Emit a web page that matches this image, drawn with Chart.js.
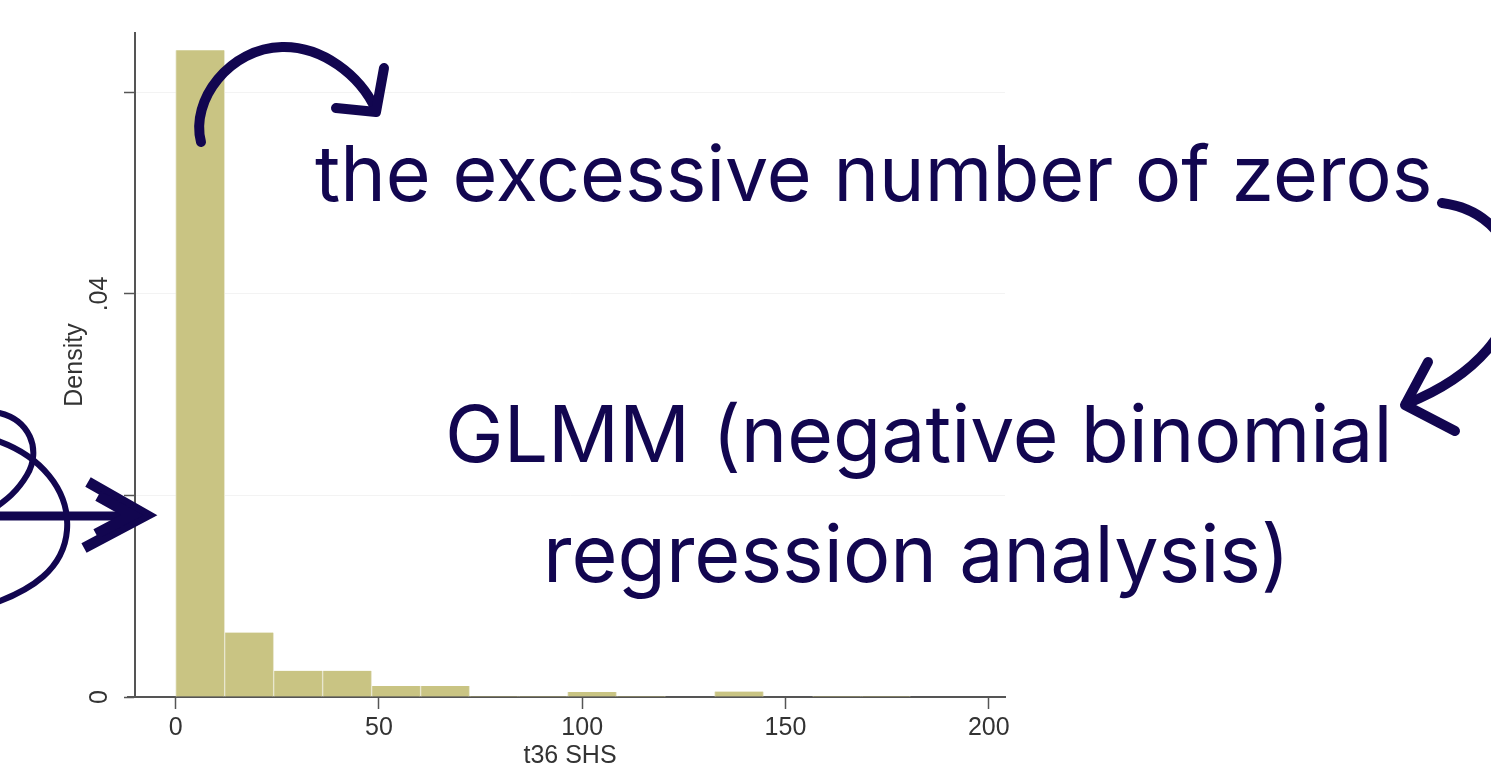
<!DOCTYPE html>
<html>
<head>
<meta charset="utf-8">
<title>t36 SHS histogram</title>
<script src="https://cdn.jsdelivr.net/npm/chart.js@4/dist/chart.umd.min.js"></script>
<style>
  html, body { margin: 0; padding: 0; background: #fff; overflow: hidden; }
  #wrap { width: 1491px; height: 764px; overflow: hidden; }
</style>
</head>
<body>
<div id="wrap"><canvas id="hist" width="1491" height="780"></canvas></div>
<script>
// ---------------- Data ----------------

const binWidth = 12.05;
const densities = [0.0642, 0.0064, 0.0026, 0.0026, 0.0011, 0.0011, 0.0001, 0.0001,
                   0.0005, 0.0001, 0, 0.00055, 0, 0.0001, 0.0001];
const xTicks = [0, 50, 100, 150, 200];
const yTicks = [0, 0.02, 0.04, 0.06];
const yTickLabels = ["0", "", ".04", ""];
const noteLines = ["the excessive number of zeros", "GLMM (negative binomial", "regression analysis)"];

const binCenters = densities.map((d, i) => i * binWidth + binWidth / 2);

// ---------------- Colours ----------------

const ink = "#120650";
const barFill = "#c9c483";
const axisGrey = "#555555";
const labelGrey = "#333333";

// ---------------- Rotated y tick labels ----------------

// Chart.js won't turn y labels to -90, so they are written here
const yLabels = {
  id: "yLabels",
  afterDraw(chart) {
    const ctx = chart.ctx;
    const y = chart.scales.y;
    ctx.save();
    ctx.fillStyle = labelGrey;
    ctx.font = "25px 'Liberation Sans'";
    ctx.textAlign = "center";
    ctx.textBaseline = "middle";
    yTicks.forEach((v, i) => {
      if (!yTickLabels[i]) return;
      ctx.save();
      ctx.translate(y.right - 35, y.getPixelForValue(v));
      ctx.rotate(-Math.PI / 2);
      ctx.fillText(yTickLabels[i], 0, 0);
      ctx.restore();
    });
    ctx.restore();
  }
};

// ---------------- Hand drawn notes ----------------

const notes = {
  id: "notes",
  afterDraw(chart) {
    const ctx = chart.ctx;
    ctx.save();

    // text lines: left x, baseline y, width
    const spots = [[315, 201, 1117], [445, 462, 948], [543, 582, 747]];
    ctx.fillStyle = ink;
    ctx.textBaseline = "alphabetic";
    ctx.textAlign = "left";
    noteLines.forEach((t, i) => {
      const [x, y, w] = spots[i];
      ctx.font = "400 76px Inter";
      const size = 76 * w / ctx.measureText(t).width;
      ctx.font = "400 " + size.toFixed(1) + "px Inter";
      ctx.fillText(t, x, y);
    });

    ctx.strokeStyle = ink;
    ctx.lineCap = "round";
    ctx.lineJoin = "round";

    // top arrow
    ctx.lineWidth = 10;
    ctx.beginPath();
    ctx.moveTo(201, 142);
    ctx.bezierCurveTo(190, 100, 230, 48, 282, 47);
    ctx.bezierCurveTo(322, 46, 360, 75, 376, 110);
    ctx.stroke();
    ctx.beginPath();
    ctx.moveTo(336, 108);
    ctx.lineTo(376, 112);
    ctx.lineTo(384, 68);
    ctx.stroke();

    // right arrow
    ctx.beginPath();
    ctx.moveTo(1442, 203);
    ctx.bezierCurveTo(1535, 215, 1555, 345, 1406, 404);
    ctx.stroke();
    ctx.beginPath();
    ctx.moveTo(1428, 362);
    ctx.lineTo(1405, 405);
    ctx.lineTo(1455, 431);
    ctx.stroke();

    // left loops
    ctx.lineWidth = 6;
    ctx.beginPath();
    ctx.moveTo(-5, 412);
    ctx.bezierCurveTo(30, 418, 42, 450, 27, 475);
    ctx.bezierCurveTo(17, 492, 6, 500, -5, 508);
    ctx.stroke();
    ctx.beginPath();
    ctx.moveTo(-5, 440);
    ctx.bezierCurveTo(40, 455, 70, 490, 67, 530);
    ctx.bezierCurveTo(64, 570, 30, 590, -5, 603);
    ctx.stroke();

    // left arrow
    ctx.lineWidth = 9;
    ctx.lineCap = "butt";
    ctx.lineJoin = "miter";
    ctx.beginPath();
    ctx.moveTo(0, 516);
    ctx.lineTo(140, 516);
    ctx.stroke();
    ctx.lineWidth = 11;
    ctx.beginPath();
    ctx.moveTo(88, 482);
    ctx.lineTo(146, 515);
    ctx.lineTo(84, 548);
    ctx.stroke();
    ctx.beginPath();
    ctx.moveTo(98, 496);
    ctx.lineTo(132, 515);
    ctx.lineTo(96, 534);
    ctx.stroke();

    ctx.restore();
  }
};

// x axis line runs a little past the y axis
const axisStub = {
  id: "axisStub",
  afterDraw(chart) {
    const ctx = chart.ctx;
    const a = chart.chartArea;
    ctx.save();
    ctx.strokeStyle = axisGrey;
    ctx.lineWidth = 2;
    ctx.beginPath();
    ctx.moveTo(a.left - 8, a.bottom);
    ctx.lineTo(a.left, a.bottom);
    ctx.stroke();
    ctx.restore();
  }
};

// ---------------- Chart ----------------

new Chart(document.getElementById("hist"), {
  type: "bar",
  data: {
    datasets: [{
      data: binCenters.map((x, i) => ({ x: x, y: densities[i] })),
      backgroundColor: barFill,
      borderColor: "#e8e6cc",
      borderWidth: { left: 1, right: 1, top: 0, bottom: 0 },
      barPercentage: 1,
      categoryPercentage: 1
    }]
  },
  options: {
    responsive: false,
    animation: false,
    devicePixelRatio: 1,
    layout: { padding: { top: 33, right: 486, left: 0, bottom: 0 } },
    plugins: {
      legend: { display: false },
      tooltip: { enabled: false }
    },
    scales: {
      x: {
        type: "linear",
        min: -10,
        max: 204,
        offset: false,
        afterBuildTicks: s => { s.ticks = xTicks.map(v => ({ value: v })); },
        afterFit: s => { s.height = 83; },
        grid: { offset: false, drawOnChartArea: false, drawTicks: true, tickLength: 12, tickColor: axisGrey, tickWidth: 1.5 },
        border: { color: axisGrey, width: 2 },
        ticks: {
          color: labelGrey,
          font: { family: "Liberation Sans", size: 25 },
          padding: 4,
          maxRotation: 0,
          callback: v => String(v)
        },
        title: {
          display: true,
          text: "t36 SHS",
          color: labelGrey,
          font: { family: "Liberation Sans", size: 25 },
          padding: { top: 0, bottom: 9 }
        }
      },
      y: {
        min: 0,
        max: 0.0659,
        afterBuildTicks: s => { s.ticks = yTicks.map(v => ({ value: v })); },
        afterFit: s => { s.width = 135; },
        grid: { color: "#f3f3f3", drawTicks: true, tickLength: 11, tickColor: axisGrey, tickWidth: 1.5 },
        border: { color: axisGrey, width: 2 },
        ticks: { display: false },
        title: {
          display: true,
          text: "Density",
          color: labelGrey,
          font: { family: "Liberation Sans", size: 25 },
          padding: { top: 60, bottom: 0 }
        }
      }
    }
  },
  plugins: [axisStub, yLabels, notes]
});
</script>
</body>
</html>
